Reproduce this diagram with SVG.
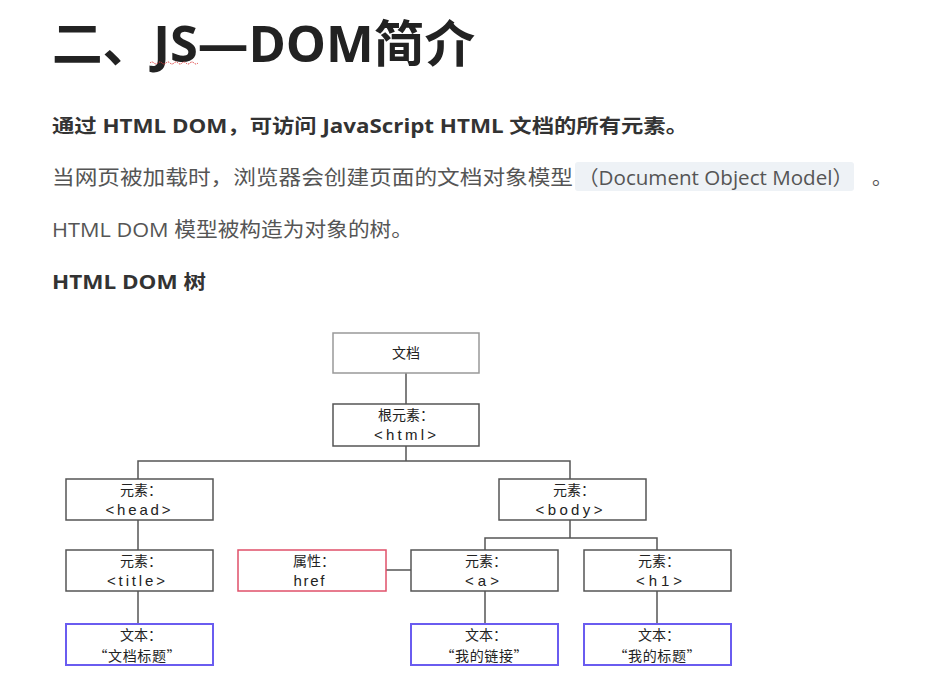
<svg xmlns="http://www.w3.org/2000/svg" width="951" height="692" viewBox="0 0 951 692">
<style>
.t{font-family:"Open Sans","Noto Sans CJK SC",sans-serif}
.h1{font-size:50px;font-weight:bold;fill:#222}
.b{font-size:19px;font-weight:bold;fill:#333}
.r{font-size:20px;fill:#555}
.n rect{fill:#fff;stroke:#555;stroke-width:1.5}
.n.red rect{stroke:#e0506a}
.n.blue rect{stroke:#6a5cf0;stroke-width:2}
.n.light rect{stroke:#999}
.n text{font-family:"Noto Sans CJK SC","DejaVu Sans",sans-serif;font-size:14px;fill:#222;text-anchor:middle}
.n text.l{font-family:"Liberation Sans","DejaVu Sans",sans-serif;font-size:15px}
.c path{fill:none;stroke:#555;stroke-width:1.5}
</style>
<rect width="951" height="692" fill="#fff"/>
<text class="t h1" x="52" y="62" textLength="423" lengthAdjust="spacingAndGlyphs">二、JS—DOM简介</text>
<path d="M150 63 q2 -2 4 0 t4 0 t4 0 t4 0 t4 0 t4 0 t4 0 t4 0 t4 0 t4 0 t4 0 t4 0" fill="none" stroke="#e04040" stroke-width="1" stroke-dasharray="1.5 1"/>
<text class="t b" x="52" y="133" textLength="636" lengthAdjust="spacingAndGlyphs">通过 HTML DOM，可访问 JavaScript HTML 文档的所有元素。</text>
<rect x="575" y="162" width="279" height="29" rx="3" fill="#eef2f6"/>
<text class="t r" x="52" y="185" textLength="521" lengthAdjust="spacingAndGlyphs">当网页被加载时，浏览器会创建页面的文档对象模型</text>
<text class="t r" x="578" y="185" textLength="275" lengthAdjust="spacingAndGlyphs">（Document Object Model）</text>
<text class="t r" x="872" y="185">。</text>
<text class="t r" x="52" y="237" textLength="361" lengthAdjust="spacingAndGlyphs">HTML DOM 模型被构造为对象的树。</text>
<text class="t b" x="52" y="289" textLength="154" lengthAdjust="spacingAndGlyphs">HTML DOM 树</text>

<g class="c" id="connectors">
<path d="M406 373V404"/>
<path d="M406 446V461"/>
<path d="M138 479V461H570V479"/>
<path d="M138 520V550"/>
<path d="M570 520V538"/>
<path d="M485 550V538H657V550"/>
<path d="M386 570H411"/>
<path d="M138 591V624"/>
<path d="M485 591V624"/>
<path d="M657 591V624"/>
</g>

<g class="n light" id="doc"><rect x="333" y="333" width="146" height="40"/><text x="406" y="358">文档</text></g>
<g class="n" id="html"><rect x="333" y="404" width="146" height="42"/><text x="406" y="420">根元素：</text><text class="l" x="405" y="440" textLength="62" lengthAdjust="spacing">&lt;html&gt;</text></g>
<g class="n" id="head"><rect x="66" y="479" width="147" height="41"/><text x="141" y="495">元素：</text><text class="l" x="138" y="515" textLength="65" lengthAdjust="spacing">&lt;head&gt;</text></g>
<g class="n" id="body"><rect x="499" y="479" width="147" height="41"/><text x="574" y="495">元素：</text><text class="l" x="569" y="515" textLength="67" lengthAdjust="spacing">&lt;body&gt;</text></g>
<g class="n" id="title"><rect x="66" y="550" width="147" height="41"/><text x="141" y="566">元素：</text><text class="l" x="136" y="586" textLength="58" lengthAdjust="spacing">&lt;title&gt;</text></g>
<g class="n red" id="href"><rect x="238" y="550" width="148" height="41"/><text x="314" y="566">属性：</text><text class="l" x="309" y="586" textLength="31" lengthAdjust="spacing">href</text></g>
<g class="n" id="a"><rect x="411" y="550" width="147" height="41"/><text x="486" y="566">元素：</text><text class="l" x="482" y="586" textLength="34" lengthAdjust="spacing">&lt;a&gt;</text></g>
<g class="n" id="h1"><rect x="584" y="550" width="147" height="41"/><text x="659" y="566">元素：</text><text class="l" x="659" y="586" textLength="46" lengthAdjust="spacing">&lt;h1&gt;</text></g>
<g class="n blue" id="t1"><rect x="66" y="624" width="147" height="41"/><text x="141" y="640">文本：</text><text x="137" y="661" textLength="87" lengthAdjust="spacing">“文档标题”</text></g>
<g class="n blue" id="t2"><rect x="411" y="624" width="147" height="41"/><text x="486" y="640">文本：</text><text x="484" y="661" textLength="87" lengthAdjust="spacing">“我的链接”</text></g>
<g class="n blue" id="t3"><rect x="584" y="624" width="147" height="41"/><text x="659" y="640">文本：</text><text x="657" y="661" textLength="87" lengthAdjust="spacing">“我的标题”</text></g>
</svg>
